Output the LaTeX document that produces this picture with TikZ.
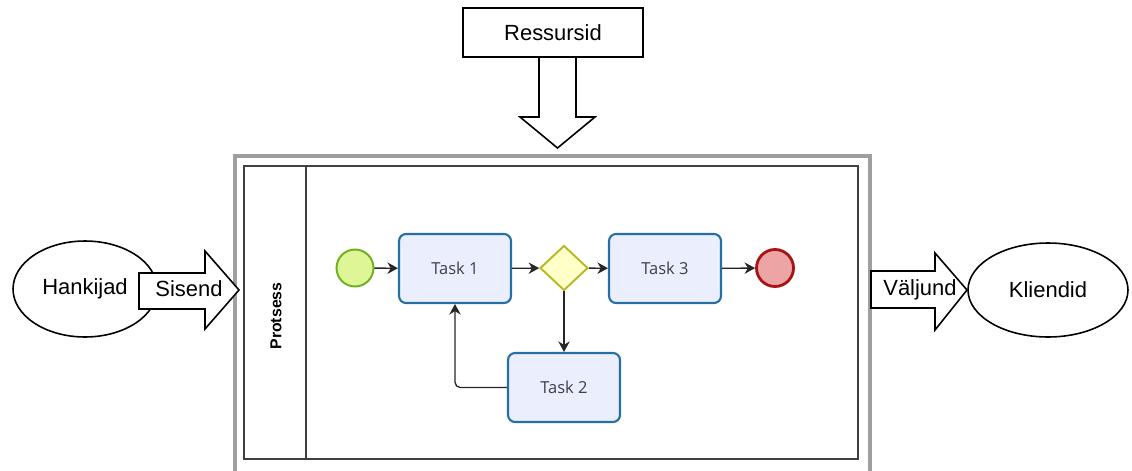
\documentclass[tikz,border=0pt]{standalone}
\usepackage{fontspec}
\setmainfont{Liberation Sans}
\newfontfamily\taskfont{Open Sans}
\usetikzlibrary{shapes.geometric,arrows.meta}

\definecolor{taskfill}{RGB}{235,238,252}
\definecolor{taskline}{RGB}{36,112,164}
\definecolor{tasktext}{RGB}{64,60,80}
\definecolor{startfill}{RGB}{222,246,150}
\definecolor{startline}{RGB}{110,176,30}
\definecolor{stopfill}{RGB}{236,164,164}
\definecolor{stopline}{RGB}{166,20,20}
\definecolor{gwfill}{RGB}{255,255,200}
\definecolor{gwline}{RGB}{184,184,40}

\begin{document}
\begin{tikzpicture}[x=0.02cm, y=-0.02cm]
\tikzset{ >={Stealth[length=6pt,width=6.5pt]},
  blockarrow/.style={draw, fill=white, line width=0.9pt, line join=miter},
  bigtext/.style={font=\fontsize{12.5}{15}\selectfont},
  task/.style={draw=taskline, fill=taskfill, line width=1.2pt, rounded corners=4pt,
    minimum width=2.24cm, minimum height=1.38cm, text=tasktext,
    font=\taskfont\fontsize{9.4}{11}\selectfont},
  event/.style={circle, line width=1.1pt, minimum size=0.74cm, inner sep=0pt},
  flow/.style={->, line width=0.75pt, draw=black!85},
}
\useasboundingbox (0,0) rectangle (1132,470);

% pool and lane
\draw [gray!75, line width=2pt] (235,156) rectangle (870,490);
\draw [black!75, line width=1pt] (244,166) rectangle (858,459);
\draw [black!75, line width=1pt] (306,166) -- (306,459);
\node [rotate=90, font=\bfseries\fontsize{9}{10}\selectfont] (lane) at (276,316) {Protsess};

% process
\node [event, draw=startline, fill=startfill] (start) at (355,268) {};
\node [task] (t1) at (455,268.5) {Task 1};
\node [diamond, draw=gwline, fill=gwfill, line width=1.1pt, inner sep=0pt,
       minimum width=0.96cm, minimum height=0.9cm] (gw) at (564,268) {};
\node [task] (t3) at (665,268.5) {Task 3};
\node [event, draw=stopline, fill=stopfill, line width=1.6pt] (stop) at (775,268) {};
\node [task] (t2) at (564,387.5) {Task 2};

\draw [flow] (start) -- (t1);
\draw [flow] (t1)    -- (gw);
\draw [flow] (gw)    -- (t3);
\draw [flow] (t3)    -- (stop);
\draw [flow] (gw)    -- (t2);
\draw [flow, rounded corners=3pt] (t2.west) -| (t1.south);

% input side
\node [ellipse, draw, line width=0.9pt, minimum width=2.88cm, minimum height=1.92cm, bigtext] (hank) at (85,289) {Hankijad};
\draw [blockarrow] (139,273) -- (205,273) -- (205,251) -- (239,290) -- (205,329) -- (205,309) -- (139,309) -- cycle;
\node [bigtext] (sisend) at (189,289) {Sisend};

% output side
\node [ellipse, draw, line width=0.9pt, minimum width=3.2cm, minimum height=1.88cm, bigtext] (klient) at (1048,290) {Kliendid};
\draw [blockarrow] (871,271) -- (935,271) -- (935,253) -- (967,290) -- (935,330) -- (935,308) -- (871,308) -- cycle;
\node [bigtext] (valjund) at (920,290) {Väljund};

% resources
\draw [blockarrow] (539,57) -- (539,117) -- (520,117) -- (557.5,148) -- (595,117) -- (576,117) -- (576,57);
\node [draw, fill=white, line width=0.9pt, minimum width=3.6cm, minimum height=0.98cm, bigtext] (res) at (553,32.5) {Ressursid};
\end{tikzpicture}
\end{document}
